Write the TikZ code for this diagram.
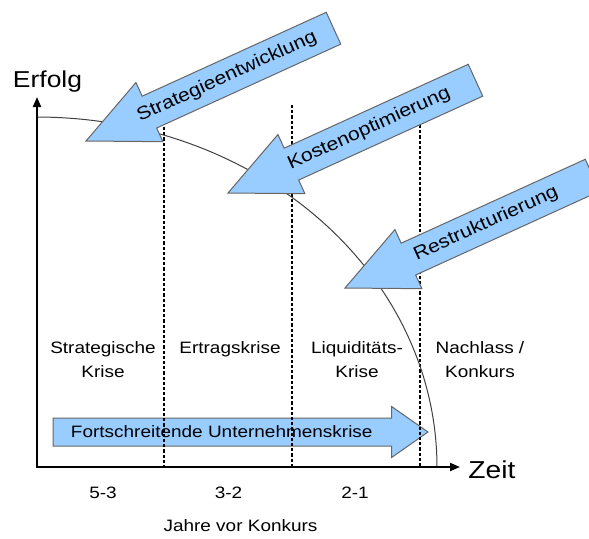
\documentclass[tikz,border=0pt]{standalone}
\usepackage{fontspec}
\setmainfont{Liberation Sans}[FakeStretch=1.15]
\usepackage{tikz}
\usetikzlibrary{positioning, calc, shapes.arrows, arrows.meta}
\definecolor{arrowblue}{RGB}{153,204,255}
\tikzset{
    bigarrow/.style={
        single arrow, draw=black!60, fill=arrowblue,
        line width=0.5pt, inner sep=0pt, outer sep=0pt,
        text height=0pt, text depth=0pt
    },
    phasearrow/.style={
        bigarrow, inner ysep=8.5pt, minimum height=136pt,
        single arrow head extend=7.5pt, single arrow tip angle=50,
        rotate=204.5, anchor=tip
    },
    timearrow/.style={
        bigarrow, inner ysep=6.75pt, minimum height=187.5pt,
        single arrow head extend=5.75pt, single arrow tip angle=70,
        anchor=tip
    },
    arrowtext/.style = {inner sep=0pt, rotate=24.5, font=\fontsize{9.2}{11}\selectfont},
    phase/.style = {inner sep=0pt, anchor=north, align=center, font=\fontsize{8.25}{11.75}\selectfont},
    yearlabel/.style = {inner sep=0pt, font=\fontsize{8.25}{10}\selectfont},
    axisline/.style = {line width=1pt, {Triangle[length=5pt,width=4pt]}-{Triangle[length=5pt,width=4pt]}},
    divider/.style = {line width=0.8pt, dash pattern=on 1.6pt off 1pt},
    decline/.style = {line width=0.5pt, black!75}
}

\begin{document}
\begin{tikzpicture}[x=0.5pt, y=-0.5pt]
    \useasboundingbox (0,0) rectangle (589,538);
    \clip (0,0) rectangle (589,538);

    % Crisis arrow (below the dividers)
    \node[timearrow] (crisis) at (428,432) {};
    \node[yearlabel] (crisistext) at ($(crisis.tail)!0.45!(crisis.tip)$) {Fortschreitende Unternehmenskrise};

    % Dividers and decline curve
    \foreach \x/\top in {164/127, 292/105, 420/125}
        \draw[divider] (\x,\top) -- (\x,467);
    \draw[decline] plot[domain=0:90, samples=80] ({37+400*cos(\x)},{467-350*sin(\x)});

    % Axes
    \coordinate (ytop) at (37,97);
    \coordinate (xend) at (460,467);
    \draw[axisline] (ytop) |- (xend);
    \node[inner sep=0pt, font=\fontsize{11.5}{13}\selectfont] (erfolg) at (47.5,82) {Erfolg};
    \node[inner sep=0pt, anchor=west, font=\fontsize{12.25}{14}\selectfont] (zeit) at (468,470) {Zeit};

    % Measures
    \node[phasearrow] (strat) at (86,141) {};
    \node[arrowtext] at ($(strat.tip)!0.57!(strat.tail)$) {Strategieentwicklung};
    \node[phasearrow] (kosten) at (228,193) {};
    \node[arrowtext] at ($(kosten.tip)!0.57!(kosten.tail)$) {Kostenoptimierung};
    \node[phasearrow] (restr) at (345,288) {};
    \node[arrowtext] at ($(restr.tip)!0.57!(restr.tail)$) {Restrukturierung};

    % Phases
    \node[phase] (p1) at (103,341.5) {Strategische\\Krise};
    \node[phase] (p2) at (230,341.5) {Ertragskrise};
    \node[phase] (p3) at (357,341.5) {Liquiditäts-\\Krise};
    \node[phase] (p4) at (480,341.5) {Nachlass /\\Konkurs};

    % Years
    \node[yearlabel] (y1) at (103,493) {5-3};
    \node[yearlabel] (y2) at (228.5,493) {3-2};
    \node[yearlabel] (y3) at (355,493) {2-1};
    \node[yearlabel] (years) at (240.5,526) {Jahre vor Konkurs};

\end{tikzpicture}
\end{document}
